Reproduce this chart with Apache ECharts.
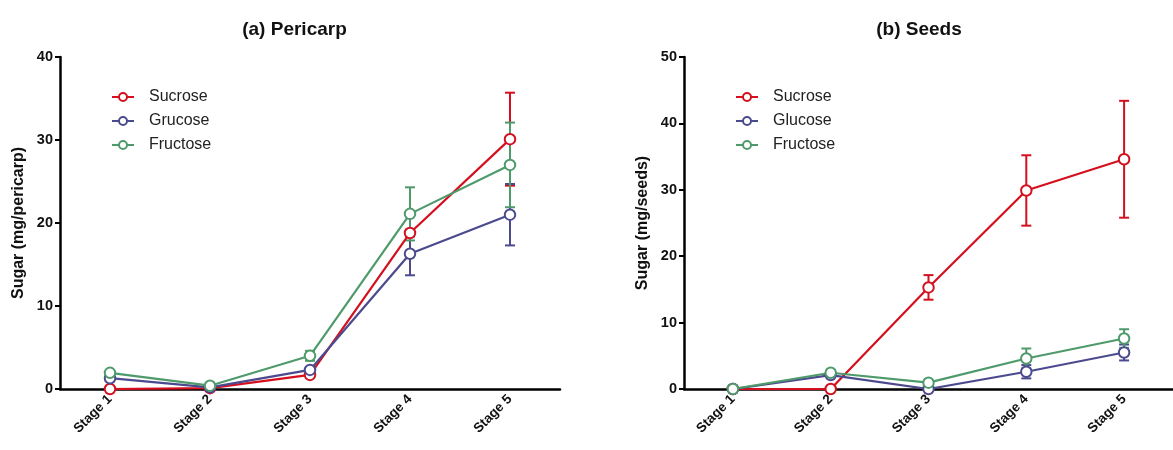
<!DOCTYPE html>
<html>
<head>
<meta charset="utf-8">
<script src="https://cdn.jsdelivr.net/npm/echarts@6/dist/echarts.min.js"></script>
<style>html,body{margin:0;padding:0;background:#fff}#c{width:1173px;height:450px}</style>
</head>
<body>
<div id="c"></div>
<script>
var categories = ['Stage 1', 'Stage 2', 'Stage 3', 'Stage 4', 'Stage 5'];
var yTicksPericarp = [0, 10, 20, 30, 40];
var yTicksSeeds = [0, 10, 20, 30, 40, 50];

var pericarpSucrose = [0, 0.1, 1.7, 18.8, 30.1];
var pericarpSucroseErr = [0, 0.1, 0.3, 0.4, 5.6];
var pericarpGrucose = [1.3, 0.2, 2.3, 16.3, 21.0];
var pericarpGrucoseErr = [0.1, 0.1, 0.3, 2.6, 3.7];
var pericarpFructose = [1.95, 0.4, 4.0, 21.1, 27.0];
var pericarpFructoseErr = [0.1, 0.1, 0.6, 3.2, 5.1];

var seedsSucrose = [0, 0, 15.3, 29.9, 34.6];
var seedsSucroseErr = [0, 0, 1.85, 5.3, 8.8];
var seedsGlucose = [0, 2.1, 0, 2.6, 5.5];
var seedsGlucoseErr = [0, 0.1, 0, 1.0, 1.2];
var seedsFructose = [0, 2.45, 0.95, 4.6, 7.6];
var seedsFructoseErr = [0, 0.1, 0.1, 1.5, 1.4];

var RED = '#d4101f', BLUE = '#4c4a8e', GREEN = '#4e9a6b';
var FONT = '"Liberation Sans", Arial, sans-serif';

function lineSeries(name, data, color, idx) {
  return {
    type: 'line', name: name, data: data, xAxisIndex: idx, yAxisIndex: idx,
    symbol: 'circle', symbolSize: 10.5, z: 3, color: color,
    lineStyle: { color: color, width: 2.2 },
    itemStyle: { color: '#fff', borderColor: color, borderWidth: 2 },
    emphasis: { disabled: true }
  };
}
function errSeries(name, vals, errs, color, idx) {
  var d = vals.map(function (v, i) { return [i, v - errs[i], v + errs[i]]; });
  return {
    type: 'custom', name: name + ' error', xAxisIndex: idx, yAxisIndex: idx, z: 2,
    itemStyle: { color: color },
    encode: { x: 0, y: [1, 2] },
    data: d,
    renderItem: function (params, api) {
      var x = api.value(0);
      var lo = api.coord([x, api.value(1)]);
      var hi = api.coord([x, api.value(2)]);
      var w = 5;
      var st = { stroke: color, lineWidth: 2, fill: null };
      return {
        type: 'group', children: [
          { type: 'line', shape: { x1: lo[0], y1: lo[1], x2: hi[0], y2: hi[1] }, style: st },
          { type: 'line', shape: { x1: lo[0] - w, y1: lo[1], x2: lo[0] + w, y2: lo[1] }, style: st },
          { type: 'line', shape: { x1: hi[0] - w, y1: hi[1], x2: hi[0] + w, y2: hi[1] }, style: st }
        ]
      };
    }
  };
}
function xAxis(idx) {
  return {
    type: 'category', gridIndex: idx, data: categories, boundaryGap: true,
    axisLine: { lineStyle: { color: '#000', width: 2.5 } },
    axisTick: { alignWithLabel: true, length: 5, lineStyle: { color: '#000', width: 2 } },
    axisLabel: { rotate: 45, margin: 8, color: '#111', fontFamily: FONT, fontWeight: 'bold', fontSize: 13.5 },
    splitLine: { show: false }
  };
}
function yAxis(idx, ticks, name) {
  return {
    type: 'value', gridIndex: idx, min: ticks[0], max: ticks[ticks.length - 1], interval: ticks[1] - ticks[0],
    name: name, nameLocation: 'middle', nameGap: 33,
    nameTextStyle: { color: '#111', fontFamily: FONT, fontWeight: 'bold', fontSize: 16 },
    axisLine: { show: true, lineStyle: { color: '#000', width: 2.5 } },
    axisTick: { show: true, length: 5, lineStyle: { color: '#000', width: 2 } },
    axisLabel: { margin: 7, color: '#111', fontFamily: FONT, fontWeight: 'bold', fontSize: 14.5 },
    splitLine: { show: false }
  };
}
var legendCommon = {
  orient: 'vertical', top: 89, padding: 0, itemWidth: 22, itemHeight: 10, itemGap: 8,
  textStyle: { fontFamily: FONT, fontSize: 16, color: '#222', padding: [0, 0, 0, 10] },
  selectedMode: false
};

var chart = echarts.init(document.getElementById('c'), null, { renderer: 'canvas' });
chart.setOption({
  animation: false,
  backgroundColor: '#fff',
  title: [
    { text: '(a) Pericarp', left: 289.5, top: 15, textAlign: 'center', textStyle: { fontFamily: FONT, fontWeight: 'bold', fontSize: 19, color: '#111' } },
    { text: '(b) Seeds', left: 914, top: 15, textAlign: 'center', textStyle: { fontFamily: FONT, fontWeight: 'bold', fontSize: 19, color: '#111' } }
  ],
  legend: [
    Object.assign({}, legendCommon, { left: 111, data: ['Sucrose', 'Grucose', 'Fructose'] }),
    Object.assign({}, legendCommon, { left: 735, data: ['Sucrose', 'Glucose', 'Fructose'] })
  ],
  grid: [
    { left: 60, top: 57, width: 500, height: 332 },
    { left: 684, top: 57, width: 500, height: 332 }
  ],
  xAxis: [xAxis(0), xAxis(1)],
  yAxis: [yAxis(0, yTicksPericarp, 'Sugar (mg/pericarp)'), yAxis(1, yTicksSeeds, 'Sugar (mg/seeds)')],
  series: [
    lineSeries('Sucrose', pericarpSucrose, RED, 0),
    lineSeries('Grucose', pericarpGrucose, BLUE, 0),
    lineSeries('Fructose', pericarpFructose, GREEN, 0),
    lineSeries('Sucrose', seedsSucrose, RED, 1),
    lineSeries('Glucose', seedsGlucose, BLUE, 1),
    lineSeries('Fructose', seedsFructose, GREEN, 1),
    errSeries('Sucrose', pericarpSucrose, pericarpSucroseErr, RED, 0),
    errSeries('Grucose', pericarpGrucose, pericarpGrucoseErr, BLUE, 0),
    errSeries('Fructose', pericarpFructose, pericarpFructoseErr, GREEN, 0),
    errSeries('Sucrose', seedsSucrose, seedsSucroseErr, RED, 1),
    errSeries('Glucose', seedsGlucose, seedsGlucoseErr, BLUE, 1),
    errSeries('Fructose', seedsFructose, seedsFructoseErr, GREEN, 1)
  ]
});
</script>
</body>
</html>
